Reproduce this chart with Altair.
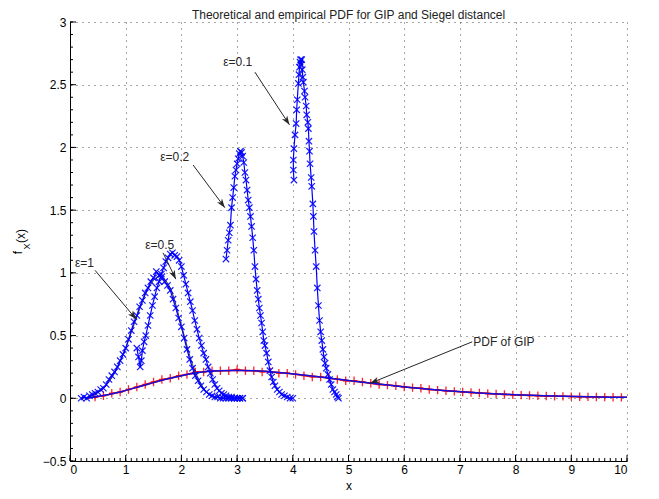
import math
import altair as alt
import pandas as pd
import numpy as np

TITLE = "Theoretical and empirical PDF for GIP and Siegel distancel"

# ---- empirical PDFs (Siegel distance), one per epsilon ----
E1_X = [0.20, 0.25, 0.30, 0.35, 0.40, 0.45, 0.50, 0.55, 0.60, 0.65, 0.70, 0.75, 0.80, 0.85, 0.90,
        0.95, 1.00, 1.05, 1.10, 1.15, 1.20, 1.25, 1.30, 1.35, 1.40, 1.45, 1.50, 1.55, 1.60, 1.65,
        1.70, 1.75, 1.80, 1.85, 1.90, 1.95, 2.00, 2.05, 2.10, 2.15, 2.20, 2.25, 2.30, 2.35, 2.40,
        2.45, 2.50, 2.55, 2.60, 2.65, 2.70, 2.75, 2.80, 2.85, 2.90, 2.95, 3.00, 3.05, 3.10]
E1_Y = [0.00, 0.01, 0.00, 0.02, 0.03, 0.04, 0.05, 0.07, 0.08, 0.11, 0.15, 0.18, 0.21, 0.25, 0.30,
        0.35, 0.40, 0.47, 0.54, 0.61, 0.66, 0.73, 0.78, 0.84, 0.88, 0.93, 0.96, 1.01, 0.98, 0.97,
        0.93, 0.90, 0.86, 0.79, 0.72, 0.64, 0.57, 0.48, 0.39, 0.31, 0.24, 0.18, 0.14, 0.10, 0.07,
        0.05, 0.03, 0.02, 0.01, 0.01, 0.00, 0.00, 0.00, 0.00, 0.00, 0.00, 0.00, 0.00, 0.00]

E05_X = [1.20, 1.23, 1.26, 1.28, 1.30, 1.33, 1.36, 1.40, 1.44, 1.48, 1.52, 1.56, 1.60, 1.64, 1.68,
         1.72, 1.76, 1.80, 1.84, 1.88, 1.92, 1.96, 2.00, 2.04, 2.08, 2.12, 2.16, 2.20, 2.24, 2.28,
         2.32, 2.36, 2.40, 2.44, 2.48, 2.52, 2.56, 2.60, 2.64, 2.68, 2.72, 2.76, 2.80, 2.85, 2.90,
         2.95, 3.00, 3.05, 3.10]
E05_Y = [0.40, 0.33, 0.25, 0.30, 0.38, 0.45, 0.50, 0.58, 0.66, 0.74, 0.81, 0.88, 0.93, 0.99, 1.04,
         1.09, 1.12, 1.15, 1.16, 1.14, 1.13, 1.10, 1.05, 0.98, 0.91, 0.84, 0.77, 0.70, 0.62, 0.55,
         0.48, 0.42, 0.36, 0.31, 0.25, 0.20, 0.15, 0.11, 0.08, 0.06, 0.04, 0.03, 0.02, 0.01, 0.01,
         0.00, 0.00, 0.00, 0.00]

E02_X = [2.80, 2.82, 2.84, 2.86, 2.88, 2.90, 2.92, 2.94, 2.96, 2.98, 3.00, 3.02, 3.04, 3.06, 3.08,
         3.10, 3.12, 3.14, 3.16, 3.18, 3.20, 3.22, 3.24, 3.26, 3.28, 3.30, 3.32, 3.34, 3.36, 3.38,
         3.40, 3.42, 3.44, 3.46, 3.48, 3.50, 3.53, 3.56, 3.59, 3.62, 3.65, 3.68, 3.72, 3.76, 3.80,
         3.85, 3.90, 3.95, 4.00]
E02_Y = [1.11, 1.18, 1.26, 1.32, 1.38, 1.52, 1.60, 1.68, 1.77, 1.82, 1.87, 1.91, 1.95, 1.97, 1.96,
         1.93, 1.88, 1.80, 1.74, 1.66, 1.58, 1.52, 1.45, 1.37, 1.28, 1.18, 1.05, 0.95, 0.86, 0.79,
         0.72, 0.66, 0.60, 0.53, 0.46, 0.42, 0.36, 0.29, 0.22, 0.17, 0.13, 0.10, 0.07, 0.05, 0.03,
         0.02, 0.01, 0.00, 0.00]

E01_X = [4.02, 4.01, 4.01, 4.02, 4.04, 4.06, 4.07, 4.08, 4.10, 4.11, 4.12, 4.13, 4.14, 4.15, 4.16,
         4.17, 4.18, 4.19, 4.21, 4.22, 4.24, 4.25, 4.27, 4.28, 4.29, 4.30, 4.31, 4.33, 4.34, 4.36,
         4.37, 4.38, 4.40, 4.42, 4.44, 4.46, 4.48, 4.50, 4.52, 4.54, 4.56, 4.58, 4.60, 4.63, 4.66,
         4.69, 4.72, 4.75, 4.78, 4.80, 4.82]
E01_Y = [1.74, 1.82, 1.90, 1.99, 2.10, 2.19, 2.30, 2.38, 2.51, 2.58, 2.64, 2.68, 2.70, 2.66, 2.70,
         2.62, 2.56, 2.52, 2.45, 2.40, 2.33, 2.26, 2.20, 2.15, 2.05, 1.97, 1.87, 1.76, 1.69, 1.55,
         1.45, 1.33, 1.18, 1.05, 0.88, 0.74, 0.62, 0.53, 0.46, 0.39, 0.33, 0.28, 0.24, 0.19, 0.15,
         0.11, 0.07, 0.05, 0.03, 0.01, 0.00]

# theoretical curve for epsilon = 1 (thin dark line)
T1_X = [0.2, 0.4, 0.6, 0.8, 1.0, 1.2, 1.4, 1.6, 1.8, 2.0, 2.2, 2.4, 2.6, 2.8, 3.0]
T1_Y = [0.00, 0.02, 0.08, 0.20, 0.40, 0.65, 0.87, 0.97, 0.88, 0.58, 0.27, 0.08, 0.01, 0.00, 0.00]

# ---- PDF of GIP: theoretical (blue line) and empirical (red +) ----
GIP_X = [0.3, 0.5, 0.7, 0.9, 1.1, 1.3, 1.5, 1.7, 1.9, 2.1, 2.3, 2.5, 2.7, 2.9, 3.1, 3.3, 3.5, 3.7,
         3.9, 4.1, 4.3, 4.5, 4.7, 4.9, 5.1, 5.3, 5.5, 5.7, 5.9, 6.1, 6.3, 6.5, 6.7, 6.9, 7.1, 7.3,
         7.5, 7.7, 7.9, 8.1, 8.3, 8.5, 8.7, 8.9, 9.1, 9.3, 9.5, 9.7, 9.9, 10.0]
GIP_Y = [0.000, 0.015, 0.030, 0.050, 0.075, 0.100, 0.125, 0.150, 0.170, 0.190, 0.205, 0.215, 0.220,
         0.222, 0.222, 0.220, 0.215, 0.208, 0.200, 0.190, 0.180, 0.170, 0.158, 0.147, 0.136, 0.125,
         0.115, 0.105, 0.095, 0.086, 0.078, 0.070, 0.063, 0.056, 0.050, 0.044, 0.039, 0.035, 0.031,
         0.027, 0.024, 0.021, 0.018, 0.016, 0.014, 0.012, 0.011, 0.009, 0.008, 0.0075]

GIP_EMP_X = [0.45, 0.60, 0.75, 0.90, 1.05, 1.20, 1.35, 1.50, 1.65, 1.80, 1.95, 2.10, 2.25, 2.40,
             2.55, 2.70, 2.85, 3.00, 3.15, 3.30, 3.45, 3.60, 3.75, 3.90, 4.05, 4.20, 4.35, 4.50,
             4.65, 4.80, 4.95, 5.10, 5.25, 5.40, 5.55, 5.70, 5.85, 6.00, 6.15, 6.30, 6.45, 6.60,
             6.75, 6.90, 7.05, 7.20, 7.35, 7.50, 7.65, 7.80, 7.95, 8.10, 8.25, 8.40, 8.55, 8.70,
             8.85, 9.00, 9.15, 9.30, 9.45, 9.60, 9.75, 9.90]
GIP_EMP_Y = [0.010, 0.020, 0.040, 0.050, 0.070, 0.090, 0.110, 0.130, 0.150, 0.160, 0.180, 0.190,
             0.210, 0.210, 0.220, 0.220, 0.220, 0.230, 0.220, 0.220, 0.210, 0.210, 0.200, 0.200,
             0.190, 0.180, 0.170, 0.170, 0.160, 0.150, 0.140, 0.140, 0.130, 0.120, 0.110, 0.105,
             0.100, 0.090, 0.085, 0.080, 0.070, 0.065, 0.060, 0.055, 0.050, 0.046, 0.042, 0.038,
             0.034, 0.030, 0.027, 0.025, 0.022, 0.020, 0.018, 0.016, 0.015, 0.013, 0.012, 0.011,
             0.010, 0.009, 0.008, 0.007]

# ---- annotations ----
ANN_TEXT = ["\u03b5=1", "\u03b5=0.5", "\u03b5=0.2", "\u03b5=0.1", "PDF of GIP"]
ANN_TX = [0.09, 1.35, 1.62, 2.75, 7.24]
ANN_TY = [1.08, 1.22, 1.92, 2.68, 0.445]
ARR_X1 = [0.45, 1.67, 2.21, 3.32, 7.22]
ARR_Y1 = [1.02, 1.16, 1.86, 2.60, 0.45]
ARR_X2 = [1.19, 1.90, 2.78, 3.94, 5.39]
ARR_Y2 = [0.63, 0.95, 1.52, 2.18, 0.12]

X_TICKS = list(range(0, 11))
Y_TICKS = [-0.5, 0, 0.5, 1, 1.5, 2, 2.5, 3]

W, H = 557, 439
XD = [0, 10]
YD = [-0.5, 3]
FONT = "Liberation Sans"
BLUE = "#0000ff"
RED = "#ff0000"
INK = "#262626"

xs = alt.Scale(domain=XD, nice=False, zero=False)
ys = alt.Scale(domain=YD, nice=False, zero=False)

# ---- data frames ----
rows = []
for name, xv, yv in [("e1", E1_X, E1_Y), ("e05", E05_X, E05_Y), ("e02", E02_X, E02_Y), ("e01", E01_X, E01_Y)]:
    for i, (a, b) in enumerate(zip(xv, yv)):
        rows.append({"x": a, "y": b, "curve": name, "o": i})
emp = pd.DataFrame(rows)
theo1 = pd.DataFrame({"x": T1_X, "y": T1_Y})
gip = pd.DataFrame({"x": GIP_X, "y": GIP_Y})
gip_emp = pd.DataFrame({"x": GIP_EMP_X, "y": GIP_EMP_Y})

sx = W / (XD[1] - XD[0])
sy = H / (YD[1] - YD[0])
angles = []
for x1, y1, x2, y2 in zip(ARR_X1, ARR_Y1, ARR_X2, ARR_Y2):
    dx = (x2 - x1) * sx
    dys = -(y2 - y1) * sy
    angles.append(math.degrees(math.atan2(dx, -dys)) % 360)
arrows = pd.DataFrame({"x": ARR_X1, "y": ARR_Y1, "x2": ARR_X2, "y2": ARR_Y2,
                       "hx": ARR_X2, "hy": ARR_Y2, "angle": angles})
labels = pd.DataFrame({"x": ANN_TX, "y": ANN_TY, "t": ANN_TEXT})

minor_x = pd.DataFrame({"x": np.round(np.arange(0, 10.001, 0.1), 2)})
minor_y = pd.DataFrame({"y": np.round(np.arange(-0.5, 3.001, 0.1), 2)})
major_x = pd.DataFrame({"x": X_TICKS})
major_y = pd.DataFrame({"y": Y_TICKS})

X_SHAPE = "M-1,-1L1,1M-1,1L1,-1"
PLUS_SHAPE = "M0,-1.2L0,1.2M-0.8,0L0.8,0"
HEAD_SHAPE = "M0,0L-0.7,2L0,1.45L0.7,2Z"

# ---- base layer with axes ----
base = alt.Chart(gip).mark_line(color=RED, strokeWidth=1.5).encode(
    x=alt.X("x:Q", scale=xs, axis=alt.Axis(
        values=X_TICKS, format="d", ticks=False, grid=True,
        gridDash=[1, 5], gridColor="#000", gridOpacity=0.7, gridWidth=1,
        domainColor="#000", domainWidth=1,
        labelFont=FONT, labelFontSize=12, labelColor="#000", labelPadding=3,
        title="x", titleFont=FONT, titleFontSize=12, titleFontWeight="normal",
        titleColor="#000", titlePadding=5)),
    y=alt.Y("y:Q", scale=ys, axis=alt.Axis(
        values=Y_TICKS, format="~r", ticks=False, grid=True,
        gridDash=[1, 5], gridColor="#000", gridOpacity=0.7, gridWidth=1,
        domainColor="#000", domainWidth=1,
        labelFont=FONT, labelFontSize=12, labelColor="#000", labelPadding=4,
        title="")),
)

gip_red = alt.Chart(gip_emp).mark_line(color=RED, strokeWidth=1.3).encode(x="x:Q", y="y:Q")
gip_plus = alt.Chart(gip_emp).mark_point(shape=PLUS_SHAPE, size=49, filled=False,
                                         stroke=RED, strokeWidth=1.3, opacity=0.85).encode(x="x:Q", y="y:Q")
gip_blue = alt.Chart(gip).mark_line(color="#1010e0", strokeWidth=1.5).encode(x="x:Q", y="y:Q")

theo_line = alt.Chart(theo1).mark_line(color="#303030", strokeWidth=1, interpolate="monotone").encode(x="x:Q", y="y:Q")
emp_line = alt.Chart(emp).mark_line(color=BLUE, strokeWidth=1.2).encode(
    x="x:Q", y="y:Q", detail="curve:N", order="o:Q")
emp_pts = alt.Chart(emp).mark_point(shape=X_SHAPE, size=40, filled=False, stroke=BLUE,
                                    strokeWidth=1.2, opacity=0.9).encode(x="x:Q", y="y:Q")

arrow_lines = alt.Chart(arrows).mark_rule(color=INK, strokeWidth=1).encode(
    x="x:Q", y="y:Q", x2="x2:Q", y2="y2:Q")
arrow_heads = alt.Chart(arrows).mark_point(shape=HEAD_SHAPE, size=81, filled=True, color=INK,
                                           opacity=1).encode(
    x="hx:Q", y="hy:Q", angle=alt.Angle("angle:Q", scale=None))
ann = alt.Chart(labels).mark_text(align="left", baseline="middle", font=FONT, fontSize=12,
                                  color=INK).encode(x="x:Q", y="y:Q", text="t:N")

# ---- inward ticks (major and minor) ----
xt_minor = alt.Chart(minor_x).mark_rule(color="#000", strokeWidth=1).encode(
    x="x:Q", y=alt.value(H), y2=alt.value(H - 3))
xt_major = alt.Chart(major_x).mark_rule(color="#000", strokeWidth=1).encode(
    x="x:Q", y=alt.value(H), y2=alt.value(H - 6))
yt_minor = alt.Chart(minor_y).mark_rule(color="#000", strokeWidth=1).encode(
    y="y:Q", x=alt.value(0), x2=alt.value(3))
yt_major = alt.Chart(major_y).mark_rule(color="#000", strokeWidth=1).encode(
    y="y:Q", x=alt.value(0), x2=alt.value(6))

# ---- y-axis title f_X(x) built from pieces ----
ylab = pd.DataFrame({"t": ["f", "X", "(x)"], "px": [-52.5, -43, -49.5],
                     "py": [230.5, 224.5, 214], "fs": [12, 9, 12]})
ytitle = alt.Chart(ylab).mark_text(angle=270, align="center", baseline="middle", font=FONT,
                                   color="#000").encode(
    x=alt.X("px:Q", scale=None), y=alt.Y("py:Q", scale=None), text="t:N",
    size=alt.Size("fs:Q", scale=None, legend=None))

# ---- chart title as text ----
title_df = pd.DataFrame({"t": [TITLE]})
title_mark = alt.Chart(title_df).mark_text(align="center", baseline="middle", font=FONT,
                                           fontSize=12, color="#222").encode(
    text="t:N", x=alt.value(W / 2), y=alt.value(-7))

chart = alt.layer(
    base, gip_red, gip_plus, gip_blue, theo_line, emp_line, emp_pts,
    arrow_lines, arrow_heads, ann,
    xt_minor, xt_major, yt_minor, yt_major, ytitle, title_mark,
).properties(
    width=W, height=H,
    autosize=alt.AutoSizeParams(type="none"),
    padding={"left": 62, "top": 14, "right": 24, "bottom": 30},
).configure_view(stroke="transparent")

chart.save("out.html", embed_options={"renderer": "svg", "actions": False})
